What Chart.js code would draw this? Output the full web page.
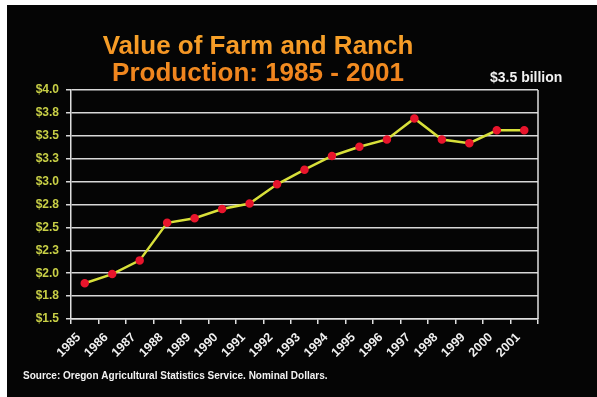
<!DOCTYPE html>
<html>
<head>
<meta charset="utf-8">
<script src="https://cdn.jsdelivr.net/npm/chart.js@4/dist/chart.umd.min.js"></script>
<style>
  html, body { margin: 0; padding: 0; background: #fff; }
  #wrap { position: relative; width: 597px; height: 397px; }
</style>
</head>
<body>
<div id="wrap"><canvas id="grafico" width="597" height="397"></canvas></div>
<script>
// Oregon farm and ranch production value, billions of nominal dollars
const anos = ["1985", "1986", "1987", "1988", "1989", "1990", "1991", "1992", "1993",
  "1994", "1995", "1996", "1997", "1998", "1999", "2000", "2001"];
const valores = [1.89, 1.99, 2.14, 2.55, 2.60, 2.70, 2.76, 2.97, 3.13,
  3.28, 3.38, 3.46, 3.69, 3.46, 3.42, 3.56, 3.56];
const rotulosY = ["$1.5", "$1.8", "$2.0", "$2.3", "$2.5", "$2.8", "$3.0", "$3.3", "$3.5", "$3.8", "$4.0"];

const titulo = ["Value of Farm and Ranch", "Production: 1985 - 2001"];
const destaque = "$3.5 billion";
const fonte = "Source: Oregon Agricultural Statistics Service. Nominal Dollars.";

const fundo = {
  id: "fundo",
  beforeDraw(chart) {
    const ctx = chart.ctx;
    ctx.save();
    ctx.fillStyle = "#ffffff";
    ctx.fillRect(0, 0, chart.width, chart.height);
    ctx.fillStyle = "#050505";
    ctx.fillRect(7, 5, chart.width - 7, chart.height - 5);
    ctx.restore();
  },
  afterDraw(chart) {
    const ctx = chart.ctx;
    const area = chart.chartArea;
    ctx.save();
    // right frame edge
    ctx.strokeStyle = "#e0e0e0";
    ctx.lineWidth = 1.5;
    ctx.beginPath();
    ctx.moveTo(area.right, area.top);
    ctx.lineTo(area.right, area.bottom);
    ctx.stroke();

    // title
    ctx.font = "bold 26px 'Liberation Sans', Arial, sans-serif";
    ctx.textAlign = "center";
    ctx.textBaseline = "alphabetic";
    const grad = ctx.createLinearGradient(0, 32, 0, 82);
    grad.addColorStop(0, "#f8a52a");
    grad.addColorStop(1, "#ef7f1c");
    ctx.fillStyle = grad;
    ctx.fillText(titulo[0], 258, 54);
    ctx.fillText(titulo[1], 258, 81);

    ctx.fillStyle = "#f2f2f2";
    ctx.font = "bold 14px 'Liberation Sans', Arial, sans-serif";
    ctx.textAlign = "left";
    ctx.fillText(destaque, 490, 82);

    ctx.font = "bold 10px 'Liberation Sans', Arial, sans-serif";
    ctx.fillText(fonte, 23, 379);
    ctx.restore();
  },
};

let linhas = new Chart(document.getElementById("grafico"), {
  type: "line",
  data: {
    labels: anos,
    datasets: [
      {
        data: valores,
        borderColor: "#d8e03a",
        borderWidth: 2.5,
        pointBackgroundColor: "#e8152c",
        pointBorderColor: "#e8152c",
        pointRadius: 3,
        tension: 0,
      },
    ],
  },
  options: {
    responsive: false,
    animation: false,
    layout: {
      padding: { left: 0, right: 59, top: 90, bottom: 0 },
    },
    plugins: {
      legend: { display: false },
      title: { display: false },
      tooltip: { enabled: false },
    },
    scales: {
      x: {
        offset: true,
        afterFit: (scale) => { scale.height = 78; },
        grid: {
          offset: true,
          drawOnChartArea: false,
          drawTicks: true,
          tickLength: 5,
          tickColor: "#e0e0e0",
          lineWidth: 1.5,
        },
        border: { color: "#e0e0e0", width: 1.5 },
        ticks: {
          color: "#f0f0f0",
          minRotation: 45,
          maxRotation: 45,
          autoSkip: false,
          padding: 6,
          labelOffset: -6,
          font: { family: "'Liberation Sans', Arial, sans-serif", size: 12.5, weight: "bold" },
        },
      },
      y: {
        min: 1.5,
        max: 4.0,
        afterFit: (scale) => { scale.width = 71; },
        grid: {
          color: "#d8d8d8",
          lineWidth: 1.5,
          tickLength: 5,
        },
        border: { color: "#e0e0e0", width: 1.5 },
        ticks: {
          stepSize: 0.25,
          padding: 7,
          color: "#c8cf46",
          callback: (v, i) => rotulosY[i],
          font: { family: "'Liberation Sans', Arial, sans-serif", size: 12, weight: "bold" },
        },
      },
    },
  },
  plugins: [fundo],
});
</script>
</body>
</html>
